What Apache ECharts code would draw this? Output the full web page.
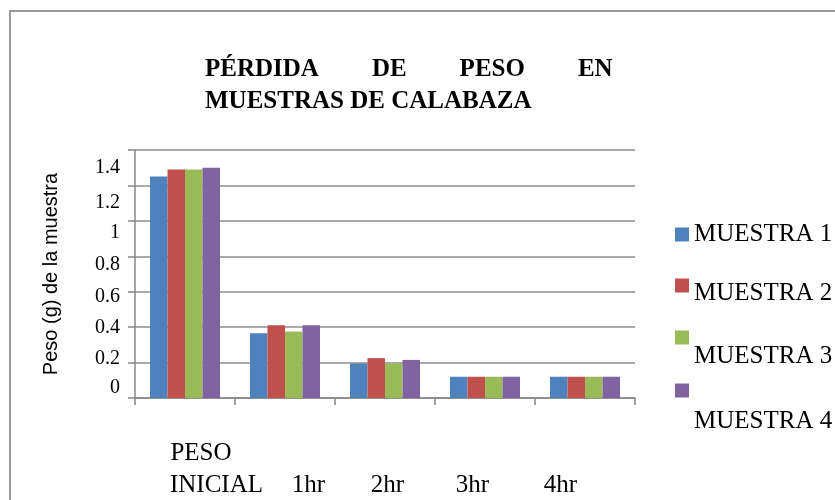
<!DOCTYPE html>
<html>
<head>
<meta charset="utf-8">
<script src="https://cdn.jsdelivr.net/npm/echarts@6/dist/echarts.min.js"></script>
<style>
  html, body { margin: 0; padding: 0; background: #fff; }
  #chart { width: 835px; height: 500px; }
</style>
</head>
<body>
<div id="chart"></div>
<script>
// Sampling times (x axis)
const categories = ['PESO INICIAL', '1hr', '2hr', '3hr', '4hr'];
// Sample names
const seriesNames = ['MUESTRA 1', 'MUESTRA 2', 'MUESTRA 3', 'MUESTRA 4'];
// Weight (g) per sample at each time
const muestra1 = [1.25, 0.365, 0.195, 0.12, 0.12];
const muestra2 = [1.29, 0.41, 0.225, 0.12, 0.12];
const muestra3 = [1.29, 0.375, 0.195, 0.12, 0.12];
const muestra4 = [1.30, 0.41, 0.215, 0.12, 0.12];
// Y-axis tick labels
const yTickLabels = ['0', '0.2', '0.4', '0.6', '0.8', '1', '1.2', '1.4'];

const colors = ['#4F81BD', '#C0504D', '#9BBB59', '#8064A2'];
const serif = 'Liberation Serif';
const values = [muestra1, muestra2, muestra3, muestra4];

// Horizontal nudges of the category labels (px, + moves right)
const xShift = [31.5, 23.5, 2.5, -12.5, -24.5];
// Vertical nudges of the value labels (px, + moves down)
const yShift = [-10, -4, 1, 5, 8, 12, 17, 18];

const xRich = { blank: { fontFamily: serif, fontSize: 25, lineHeight: 32 } };
xShift.forEach((s, i) => {
  const pad = s >= 0 ? [0, 0, 0, 2 * s] : [0, -2 * s, 0, 0];
  xRich['c' + i] = { fontFamily: serif, fontSize: 25, lineHeight: 32, color: '#000', padding: pad };
  // first line of the two-line label, widened to match the second line
  xRich['p' + i] = { fontFamily: serif, fontSize: 25, lineHeight: 32, color: '#000',
    padding: [pad[0], pad[1] + 31, pad[2], pad[3]] };
});

const yRich = {};
yShift.forEach((d, i) => {
  yRich['y' + i] = { fontFamily: serif, fontSize: 20, color: '#000',
    padding: d >= 0 ? [2 * d, 0, 0, 0] : [0, 0, -2 * d, 0] };
});

// Legend entries, each as its own block so the text can drop below its swatch
const legendTops = [221.5, 264.5, 305.5, 347];
const legendDrops = [0, 16, 38, 61];
const legends = seriesNames.map((name, i) => ({
  data: [name],
  orient: 'vertical',
  left: 675,
  top: legendTops[i],
  padding: 0,
  itemWidth: 14,
  itemHeight: 14,
  icon: 'rect',
  selectedMode: false,
  formatter: (n) => legendDrops[i] > 0 ? '{g| }\n{t|' + n + '}' : '{t|' + n + '}',
  textStyle: {
    fontFamily: serif, fontSize: 25, color: '#000', lineHeight: 26,
    rich: {
      g: { fontFamily: serif, fontSize: 2, lineHeight: legendDrops[i] },
      t: { fontFamily: serif, fontSize: 25, color: '#000', lineHeight: 26 }
    }
  }
}));

const titleFont = { fontFamily: serif, fontSize: 25, fontWeight: 'bold', color: '#000', lineHeight: 32 };

const chart = echarts.init(document.getElementById('chart'), null, { renderer: 'canvas' });
chart.setOption({
  animation: false,
  backgroundColor: '#fff',
  color: colors,
  title: {
    text: '{t|PÉRDIDA}{g| }{t|DE}{g| }{t|PESO}{g| }{t|EN}\n{t|MUESTRAS DE CALABAZA}',
    left: 205,
    top: 54,
    padding: 0,
    textStyle: Object.assign({}, titleFont, {
      rich: { t: titleFont, g: Object.assign({}, titleFont, { width: 53 }) }
    })
  },
  graphic: [{
    type: 'rect',
    silent: true,
    shape: { x: 10, y: 11, width: 900, height: 600 },
    style: { fill: 'none', stroke: '#9a9a9a', lineWidth: 2 }
  }],
  legend: legends,
  grid: { left: 135, right: 200, top: 150, bottom: 102 },
  xAxis: {
    type: 'category',
    data: categories,
    axisLine: { lineStyle: { color: '#868686', width: 1.5 } },
    axisTick: { show: true, length: 7, lineStyle: { color: '#868686', width: 1.5 } },
    axisLabel: {
      interval: 0,
      margin: 39,
      formatter: (v, i) => i === 0
        ? '{p0|PESO}\n{c0|INICIAL}'
        : '{blank| }\n{c' + i + '|' + v + '}',
      rich: xRich
    },
    splitLine: { show: false }
  },
  yAxis: {
    type: 'value',
    min: 0,
    max: 1.4,
    interval: 0.2,
    name: 'Peso (g) de la muestra',
    nameLocation: 'middle',
    nameGap: 74,
    nameRotate: 90,
    nameTextStyle: { fontFamily: 'Liberation Sans', fontSize: 20, color: '#000' },
    axisLine: { show: true, lineStyle: { color: '#868686', width: 1.5 } },
    axisTick: { show: true, length: 7, lineStyle: { color: '#868686', width: 1.5 } },
    axisLabel: {
      margin: 15,
      formatter: (v) => {
        const i = Math.round(v * 5);
        return '{y' + i + '|' + yTickLabels[i] + '}';
      },
      rich: yRich
    },
    splitLine: { lineStyle: { color: '#8c8c8c', width: 1.5 } }
  },
  series: seriesNames.map((name, i) => ({
    name: name,
    type: 'bar',
    data: values[i],
    barGap: '0%',
    barCategoryGap: '30%',
    itemStyle: { color: colors[i] }
  }))
});
</script>
</body>
</html>
